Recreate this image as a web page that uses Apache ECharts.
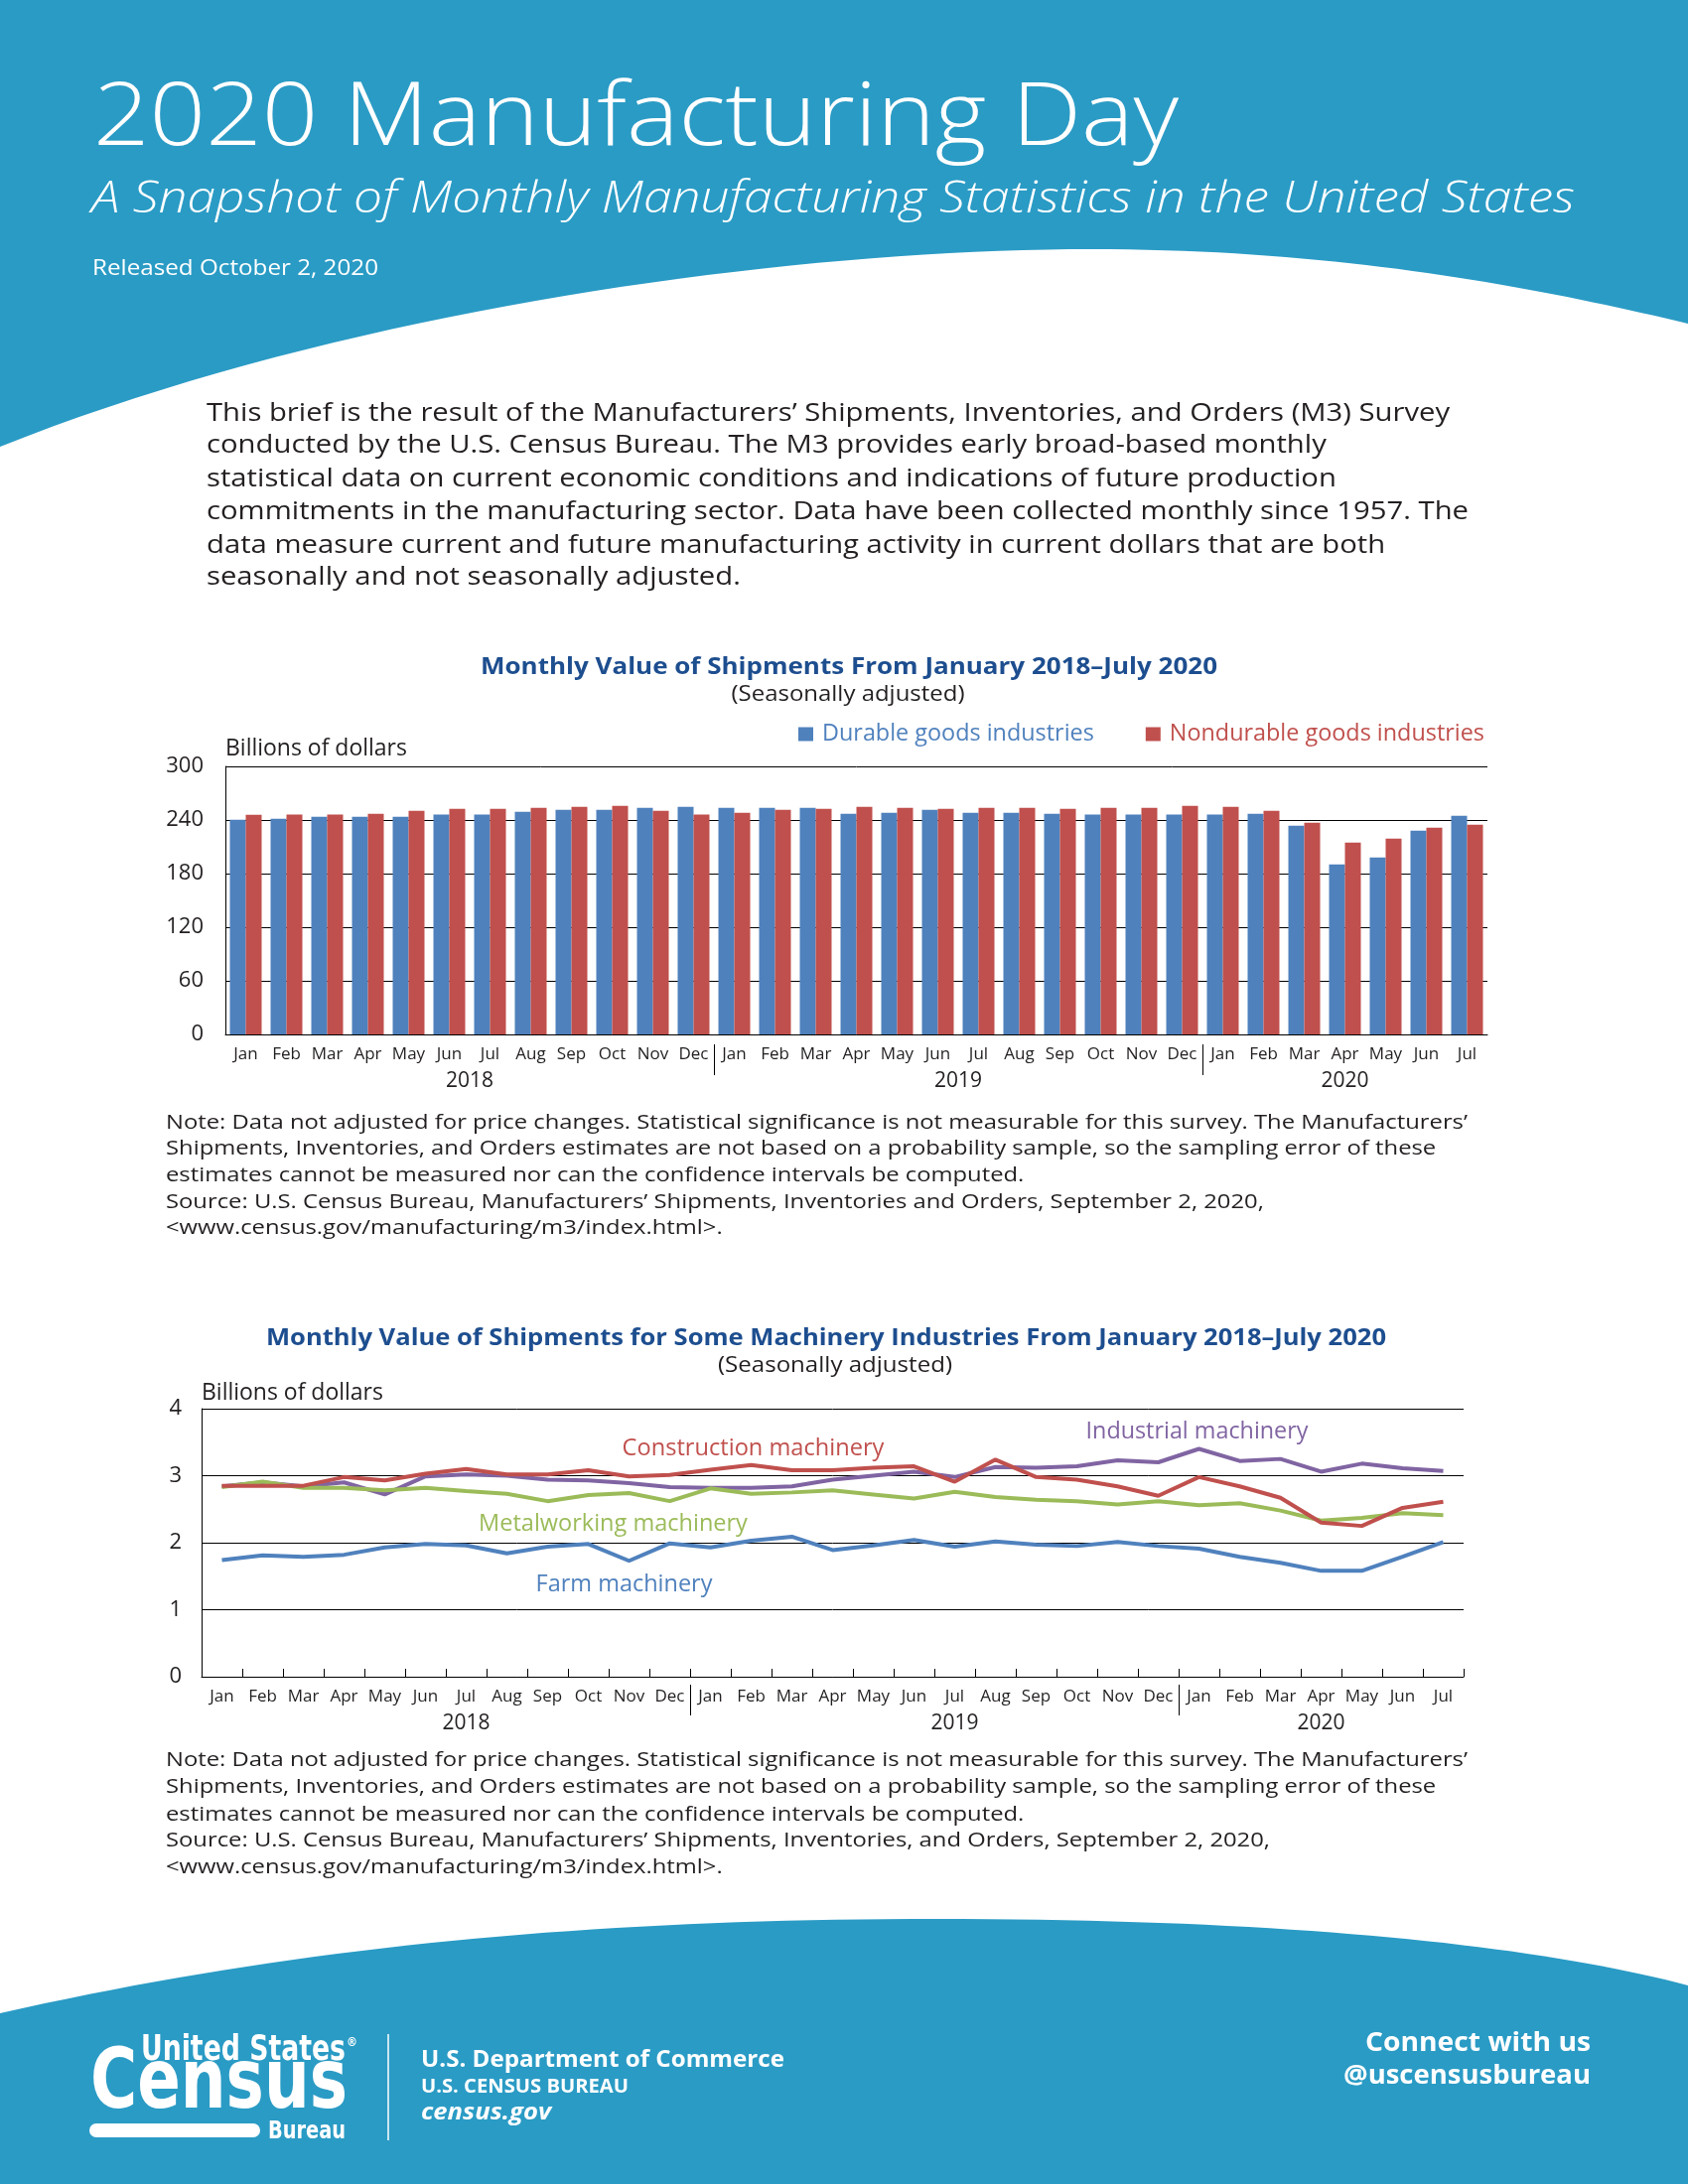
<!DOCTYPE html>
<html><head><meta charset="utf-8">
<script src="https://cdn.jsdelivr.net/npm/echarts@6/dist/echarts.min.js"></script>
<style>html,body{margin:0;padding:0;background:#fff}#c{width:1700px;height:2200px}</style>
</head><body><div id="c"></div>
<script>
// ---------------- DATA ----------------
const categories = [
  'Jan 2018','Feb 2018','Mar 2018','Apr 2018','May 2018','Jun 2018','Jul 2018','Aug 2018','Sep 2018','Oct 2018','Nov 2018','Dec 2018',
  'Jan 2019','Feb 2019','Mar 2019','Apr 2019','May 2019','Jun 2019','Jul 2019','Aug 2019','Sep 2019','Oct 2019','Nov 2019','Dec 2019',
  'Jan 2020','Feb 2020','Mar 2020','Apr 2020','May 2020','Jun 2020','Jul 2020'
];
const durableGoods = [
  240.4, 241.5, 243.7, 243.7, 243.7, 246.0, 246.0, 249.3, 251.5, 251.5, 253.7, 254.8,
  253.7, 253.7, 253.7, 247.0, 248.0, 251.5, 248.0, 248.0, 247.0, 246.0, 246.0, 246.0,
  246.0, 247.0, 233.7, 190.4, 198.1, 228.1, 244.8
];
const nondurableGoods = [
  245.9, 246.0, 246.0, 247.0, 250.4, 252.6, 252.6, 253.7, 254.8, 255.9, 250.4, 246.0,
  248.0, 251.5, 252.6, 254.8, 253.7, 252.6, 253.7, 253.7, 252.6, 253.7, 253.7, 255.9,
  254.8, 250.4, 237.0, 214.8, 219.3, 231.5, 234.8
];
const farmMachinery = [
  1.74, 1.81, 1.79, 1.82, 1.93, 1.98, 1.96, 1.84, 1.94, 1.98, 1.73, 1.99,
  1.93, 2.03, 2.09, 1.89, 1.96, 2.04, 1.94, 2.02, 1.97, 1.95, 2.01, 1.95,
  1.91, 1.79, 1.70, 1.58, 1.58, 1.79, 2.01
];
const constructionMachinery = [
  2.85, 2.85, 2.85, 2.98, 2.93, 3.03, 3.10, 3.02, 3.02, 3.08, 2.99, 3.01,
  3.09, 3.16, 3.08, 3.08, 3.12, 3.14, 2.91, 3.24, 2.98, 2.94, 2.84, 2.70,
  2.98, 2.84, 2.67, 2.30, 2.25, 2.52, 2.61
];
const industrialMachinery = [
  2.84, 2.90, 2.84, 2.90, 2.72, 2.99, 3.02, 3.00, 2.94, 2.93, 2.89, 2.83,
  2.82, 2.82, 2.84, 2.94, 3.00, 3.06, 2.98, 3.13, 3.12, 3.14, 3.23, 3.20,
  3.40, 3.22, 3.25, 3.06, 3.18, 3.11, 3.07
];
const metalworkingMachinery = [
  2.83, 2.91, 2.82, 2.82, 2.78, 2.82, 2.77, 2.73, 2.62, 2.71, 2.74, 2.62,
  2.81, 2.73, 2.75, 2.78, 2.72, 2.66, 2.76, 2.68, 2.64, 2.62, 2.57, 2.62,
  2.56, 2.59, 2.48, 2.33, 2.37, 2.44, 2.41
];
const barYTicks = [0, 60, 120, 180, 240, 300];
const lineYTicks = [0, 1, 2, 3, 4];
const yearLabels = ['2018', '2019', '2020'];
const yearDividers = [12, 24];                 // index where a new year starts
const barYearPos = [6, 18, 27.5];              // label anchors on month scale
const lineYearPos = [6.5, 18.5, 27.5];
// inline series labels: [series name, anchor category, anchor value]
const lineLabelAnchors = [
  ['Construction machinery', 'Feb 2019', 3.45],
  ['Industrial machinery', 'Jan 2020', 3.70],
  ['Metalworking machinery', 'Nov 2018', 2.33],
  ['Farm machinery', 'Nov 2018', 1.41]
];

// ---------------- STYLE ----------------
const FF = "'Open Sans', 'Noto Sans', sans-serif";
const FC = "'Liberation Sans Narrow', 'DejaVu Sans Condensed', 'Roboto', sans-serif";
const INK = '#231f20';
const TITLE_BLUE = '#1d4e8f';
const HEAD = '#2a9bc5';
const C_DUR = '#4f81bd', C_NON = '#c0504d';
const lineColors = {
  'Farm machinery': '#4f81bd',
  'Construction machinery': '#c0504d',
  'Industrial machinery': '#8064a2',
  'Metalworking machinery': '#9bbb59'
};
const labelOffsets = {
  'Construction machinery': [2, 3],
  'Industrial machinery': [-2, 3],
  'Metalworking machinery': [-16, 4],
  'Farm machinery': [-5, 2]
};
const labelWidths = {
  'Construction machinery': 264,
  'Industrial machinery': 224,
  'Metalworking machinery': 271,
  'Farm machinery': 178
};

const mctx = document.createElement('canvas').getContext('2d');
function measure(text, o) {
  mctx.font = `${o.style || 'normal'} ${o.weight || 'normal'} ${o.size}px ${o.family || FF}`;
  return mctx.measureText(text).width;
}
function fitSize(text, target, o) {
  const base = Object.assign({size: 20}, o);
  return base.size * target / measure(text, base);
}
function txt(text, x, y, o, targetW, align) {
  const w = measure(text, o);
  const sx = targetW ? targetW / w : 1;
  return {
    type: 'text', x: x, y: y, scaleX: sx, silent: true, z: 10,
    style: {
      text: text, fill: o.color || INK, fontSize: o.size, fontFamily: o.family || FF,
      fontWeight: o.weight || 'normal', fontStyle: o.style || 'normal',
      align: align || 'left', textAlign: align || 'left',
      verticalAlign: 'middle', textVerticalAlign: 'middle'
    }
  };
}
function block(lines, x, ys, o, refIdx, refW) {
  const sx = refW / measure(lines[refIdx], o);
  return lines.map((l, i) => {
    const e = txt(l, x, ys[i], o, 0, 'left');
    e.scaleX = sx;
    return e;
  });
}
// sample a chain of cubic bezier segments into polygon points (background shapes only)
function bezierPts(start, segs) {
  const pts = [start];
  let p0 = start;
  segs.forEach(([c1, c2, p3]) => {
    for (let i = 1; i <= 40; i++) {
      const t = i / 40, u = 1 - t;
      pts.push([
        u*u*u*p0[0] + 3*u*u*t*c1[0] + 3*u*t*t*c2[0] + t*t*t*p3[0],
        u*u*u*p0[1] + 3*u*u*t*c1[1] + 3*u*t*t*c2[1] + t*t*t*p3[1]
      ]);
    }
    p0 = p3;
  });
  return pts;
}
const headerPts = [[0, 0], [1700, 0]].concat(bezierPts([1700, 326], [
  [[1550, 290], [1350, 251], [1100, 251]],
  [[800, 251], [350, 310], [0, 450]]
]));
const footerPts = [[1700, 2200], [0, 2200]].concat(bezierPts([0, 2028], [
  [[300, 1960], [600, 1933], [943, 1933]],
  [[1300, 1933], [1550, 1960], [1700, 2000]]
]));

// ---------------- TEXTS ----------------
const introLines = [
  'This brief is the result of the Manufacturers\u2019 Shipments, Inventories, and Orders (M3) Survey',
  'conducted by the U.S. Census Bureau. The M3 provides early broad-based monthly',
  'statistical data on current economic conditions and indications of future production',
  'commitments in the manufacturing sector. Data have been collected monthly since 1957. The',
  'data measure current and future manufacturing activity in current dollars that are both',
  'seasonally and not seasonally adjusted.'
];
const note1Lines = [
  'Note: Data not adjusted for price changes. Statistical significance is not measurable for this survey. The Manufacturers\u2019',
  'Shipments, Inventories, and Orders estimates are not based on a probability sample, so the sampling error of these',
  'estimates cannot be measured nor can the confidence intervals be computed.',
  'Source: U.S. Census Bureau, Manufacturers\u2019 Shipments, Inventories and Orders, September 2, 2020,',
  '<www.census.gov/manufacturing/m3/index.html>.'
];
const note2Lines = [
  'Note: Data not adjusted for price changes. Statistical significance is not measurable for this survey. The Manufacturers\u2019',
  'Shipments, Inventories, and Orders estimates are not based on a probability sample, so the sampling error of these',
  'estimates cannot be measured nor can the confidence intervals be computed.',
  'Source: U.S. Census Bureau, Manufacturers\u2019 Shipments, Inventories, and Orders, September 2, 2020,',
  '<www.census.gov/manufacturing/m3/index.html>.'
];

const W = '#ffffff';
const graphics = [
  {type: 'polygon', silent: true, z: 0, shape: {points: headerPts}, style: {fill: HEAD}},
  {type: 'polygon', silent: true, z: 0, shape: {points: footerPts}, style: {fill: HEAD}},
  txt('2020 Manufacturing Day', 94, 121, {size: 89, weight: 300, color: W}, 1093),
  txt('A Snapshot of Monthly Manufacturing Statistics in the United States', 92, 201,
      {size: 44, weight: 300, style: 'italic', color: W}, 1494),
  txt('Released October 2, 2020', 93, 271, {size: 21, color: W}, 288),
  ...block(introLines, 208, [417, 449, 483, 516, 550, 582], {size: 26, color: INK}, 3, 1271),
  txt('Monthly Value of Shipments From January 2018\u2013July 2020', 855, 672,
      {size: 24, weight: 700, color: TITLE_BLUE}, 742, 'center'),
  txt('(Seasonally adjusted)', 854, 700, {size: 21, color: INK}, 235, 'center'),
  ...block(note1Lines, 167, [1131, 1157, 1184, 1211, 1237], {size: 20, color: INK}, 0, 1311),
  txt('Monthly Value of Shipments for Some Machinery Industries From January 2018\u2013July 2020', 832, 1348,
      {size: 24, weight: 700, color: TITLE_BLUE}, 1128, 'center'),
  txt('(Seasonally adjusted)', 841, 1376, {size: 21, color: INK}, 236, 'center'),
  ...block(note2Lines, 167, [1773, 1800, 1828, 1854, 1881], {size: 20, color: INK}, 0, 1311),
  // footer logo
  txt('United States', 142, 2066, {size: 35, weight: 700, family: FC, color: W}, 206),
  txt('\u00ae', 349, 2058, {size: 13, weight: 700, family: FC, color: W}, 11),
  txt('Census', 91, 2101, {size: 84, weight: 700, family: FC, color: W}, 259),
  {type: 'rect', silent: true, z: 10, shape: {x: 90, y: 2139, width: 172, height: 14, r: 7}, style: {fill: W}},
  txt('Bureau', 270, 2147, {size: 25, weight: 700, family: FC, color: W}, 78),
  {type: 'line', silent: true, z: 10, shape: {x1: 391, y1: 2049, x2: 391, y2: 2156}, style: {stroke: W, lineWidth: 1.5}},
  txt('U.S. Department of Commerce', 424, 2075, {size: 23, weight: 700, color: W}, 366),
  txt('U.S. CENSUS BUREAU', 424, 2103, {size: 19, weight: 700, color: W}, 209),
  txt('census.gov', 424, 2128, {size: 24, weight: 700, style: 'italic', color: W}, 131),
  txt('Connect with us', 1602, 2058, {size: 27, weight: 700, color: W}, 227, 'right'),
  txt('@uscensusbureau', 1602, 2091, {size: 27, weight: 700, color: W}, 249, 'right')
];

// ---------------- CHART ----------------
const chart = echarts.init(document.getElementById('c'), null, {renderer: 'canvas', width: 1700, height: 2200});
const monthLabel = v => v.split(' ')[0];
const blackLine = {color: '#000', width: 1};
const legendSize = fitSize('Durable goods industries', 274, {size: 21});
const yNameSize = fitSize('Billions of dollars', 183, {size: 21});

const lineSeries = [
  ['Industrial machinery', industrialMachinery],
  ['Metalworking machinery', metalworkingMachinery],
  ['Farm machinery', farmMachinery],
  ['Construction machinery', constructionMachinery]
].map(([name, data]) => {
  const anchor = lineLabelAnchors.find(a => a[0] === name);
  return {
    name: name, type: 'line', xAxisIndex: 2, yAxisIndex: 1, data: data,
    showSymbol: false, symbol: 'none',
    lineStyle: {color: lineColors[name], width: 4},
    itemStyle: {color: lineColors[name]},
    markPoint: {
      silent: true, symbol: 'rect', symbolSize: 0, animation: false,
      label: {
        show: true, position: 'inside', formatter: name, color: lineColors[name],
        fontFamily: FF, fontSize: fitSize(name, labelWidths[name], {size: 22}),
        offset: labelOffsets[name]
      },
      data: [{coord: [anchor[1], anchor[2]]}]
    }
  };
});

const option = {
  animation: false,
  backgroundColor: '#ffffff',
  textStyle: {fontFamily: FF, color: INK},
  graphic: {elements: graphics},
  legend: {
    left: 804, top: 728, itemWidth: 15, itemHeight: 14, itemGap: 52, icon: 'rect', padding: 0,
    selectedMode: false,
    textStyle: {fontSize: legendSize, fontFamily: FF, padding: [0, 0, 0, 4]},
    data: [
      {name: 'Durable goods industries', textStyle: {color: C_DUR}},
      {name: 'Nondurable goods industries', textStyle: {color: C_NON}}
    ]
  },
  grid: [
    {left: 227, top: 772, width: 1271, height: 270},
    {left: 203, top: 1419, width: 1271, height: 270}
  ],
  xAxis: [
    {
      type: 'category', gridIndex: 0, data: categories, boundaryGap: true,
      axisLine: {lineStyle: blackLine}, axisTick: {show: false},
      axisLabel: {interval: 0, formatter: monthLabel, fontSize: 17, color: INK, margin: 12}
    },
    {
      type: 'value', gridIndex: 0, min: 0, max: 31, position: 'bottom', offset: 10,
      axisLine: {show: false}, splitLine: {show: false},
      axisTick: {show: true, customValues: yearDividers, length: 31, lineStyle: blackLine},
      axisLabel: {customValues: barYearPos, margin: 27, fontSize: 21, color: INK,
        formatter: v => yearLabels[barYearPos.indexOf(v)] || ''}
    },
    {
      type: 'category', gridIndex: 1, data: categories, boundaryGap: true,
      axisLine: {lineStyle: blackLine},
      axisTick: {show: true, inside: true, length: 8, interval: 0, lineStyle: blackLine},
      axisLabel: {interval: 0, formatter: monthLabel, fontSize: 17, color: INK, margin: 12}
    },
    {
      type: 'value', gridIndex: 1, min: 0, max: 31, position: 'bottom', offset: 8,
      axisLine: {show: false}, splitLine: {show: false},
      axisTick: {show: true, customValues: yearDividers, length: 31, lineStyle: blackLine},
      axisLabel: {customValues: lineYearPos, margin: 29, fontSize: 21, color: INK,
        formatter: v => yearLabels[lineYearPos.indexOf(v)] || ''}
    }
  ],
  yAxis: [
    {
      type: 'value', gridIndex: 0, min: barYTicks[0], max: barYTicks[barYTicks.length - 1],
      interval: barYTicks[1] - barYTicks[0],
      name: 'Billions of dollars', nameLocation: 'end', nameGap: 6,
      nameTextStyle: {align: 'left', fontSize: yNameSize, color: INK, fontFamily: FF},
      axisLine: {show: true, lineStyle: blackLine}, axisTick: {show: false},
      splitLine: {show: true, lineStyle: blackLine},
      axisLabel: {fontSize: 22, color: INK, margin: 22, padding: [5, 0, 0, 0]}
    },
    {
      type: 'value', gridIndex: 1, min: lineYTicks[0], max: lineYTicks[lineYTicks.length - 1],
      interval: lineYTicks[1] - lineYTicks[0],
      name: 'Billions of dollars', nameLocation: 'end', nameGap: 4,
      nameTextStyle: {align: 'left', fontSize: yNameSize, color: INK, fontFamily: FF},
      axisLine: {show: true, lineStyle: blackLine}, axisTick: {show: false},
      splitLine: {show: true, lineStyle: blackLine},
      axisLabel: {fontSize: 22, color: INK, margin: 20, padding: [5, 0, 0, 0]}
    }
  ],
  series: [
    {name: 'Durable goods industries', type: 'bar', xAxisIndex: 0, yAxisIndex: 0,
     data: durableGoods, barWidth: 16, barGap: '0%', itemStyle: {color: C_DUR}},
    {name: 'Nondurable goods industries', type: 'bar', xAxisIndex: 0, yAxisIndex: 0,
     data: nondurableGoods, barWidth: 16, barGap: '0%', itemStyle: {color: C_NON}},
    ...lineSeries
  ]
};
chart.setOption(option);
</script>
</body></html>
